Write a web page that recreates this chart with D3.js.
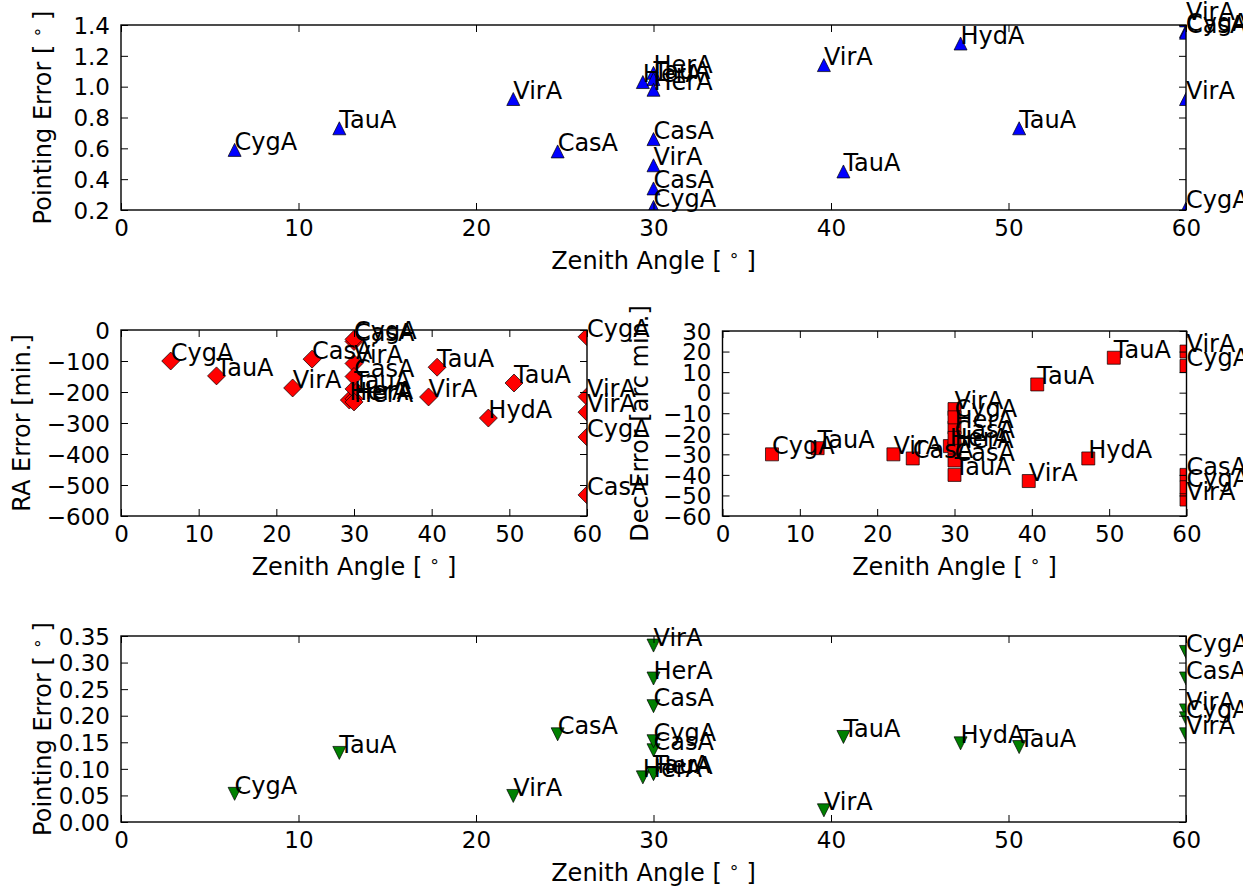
<!DOCTYPE html>
<html>
<head>
<meta charset="utf-8">
<script src="https://cdn.jsdelivr.net/npm/d3@7"></script>
<style>
  body { margin: 0; background: #fff; }
  svg { display: block; font-family: "DejaVu Sans", sans-serif; }
</style>
</head>
<body>
<svg id="chart" width="1243" height="890"></svg>
<script>
// one entry per observation
const sources = ["CygA", "TauA", "VirA", "CasA", "HerA", "HerA", "TauA", "HerA", "CasA", "VirA", "CasA",
  "CygA", "VirA", "TauA", "HydA", "TauA", "VirA", "CygA", "CasA", "VirA", "CygA"];
const zenith = [6.4, 12.3, 22.1, 24.6, 29.4, 30, 30, 30, 30, 30, 30,
  30, 39.6, 40.7, 47.3, 50.6, 60, 60, 60, 60, 60];
const pointingErrA = [0.59, 0.73, 0.92, 0.58, 1.03, 1.09, 1.05, 0.98, 0.66, 0.49, 0.34,
  0.22, 1.14, 0.45, 1.28, 0.73, 1.43, 1.36, 1.35, 0.92, 0.21];
const raError = [-100, -148, -187, -94, -226, -222, -190, -232, -37, -108, -150,
  -30, -216, -120, -284, -171, -215, -22, -532, -265, -345];
const decError = [-30, -27, -30, -32, -26, -17, -40, -27, -22, -8, -33,
  -12, -43, 4, -32, 17, 20, 13, -40, -52, -46];
const pointingErrB = [0.053, 0.13, 0.049, 0.165, 0.084, 0.27, 0.092, 0.09, 0.218, 0.332, 0.135,
  0.152, 0.022, 0.16, 0.148, 0.141, 0.21, 0.32, 0.27, 0.165, 0.195];

const zenithTicks = [0, 10, 20, 30, 40, 50, 60];
const pointingTicksA = [0.2, 0.4, 0.6, 0.8, 1.0, 1.2, 1.4];
const raTicks = [0, -100, -200, -300, -400, -500, -600];
const decTicks = [30, 20, 10, 0, -10, -20, -30, -40, -50, -60];
const pointingTicksB = [0, 0.05, 0.1, 0.15, 0.2, 0.25, 0.3, 0.35];

const svg = d3.select('#chart');
const TICK_FONT = 23;
const LABEL_FONT = 24;
const TICK = 7;

// marker shapes, matplotlib style
const triUp = s => `M0,${-s / 2}L${s / 2},${s / 2}L${-s / 2},${s / 2}Z`;
const triDown = s => `M0,${s / 2}L${s / 2},${-s / 2}L${-s / 2},${-s / 2}Z`;
const diamond = s => `M0,${-s / 2}L${s / 2},0L0,${s / 2}L${-s / 2},0Z`;
const square = s => `M${-s / 2},${-s / 2}h${s}v${s}h${-s}Z`;

// label with a superscript degree ring, e.g. "Zenith Angle [°]"
function degreeLabel(sel, text) {
  sel.append('tspan').text(text + ' [');
  sel.append('tspan').attr('font-size', 17).attr('dx', 7).attr('dy', -8).text('\u2218');
  sel.append('tspan').attr('dx', 7).attr('dy', 8).text(']');
}

function drawPanel(p) {
  const x = d3.scaleLinear().domain([0, 60]).range([p.left, p.right]);
  const y = d3.scaleLinear().domain(p.yDomain).range([p.bottom, p.top]);
  const idx = d3.range(sources.length);
  const g = svg.append('g');

  g.append('clipPath').attr('id', 'clip' + p.id)
    .append('rect')
    .attr('x', p.left).attr('y', p.top)
    .attr('width', p.right - p.left).attr('height', p.bottom - p.top);

  // markers (clipped to the axes)
  g.append('g').attr('clip-path', `url(#clip${p.id})`)
    .selectAll('path')
    .data(idx)
    .join('path')
    .attr('transform', i => `translate(${x(zenith[i])},${y(p.values[i])})`)
    .attr('d', p.marker)
    .attr('fill', p.color)
    .attr('stroke', '#000')
    .attr('stroke-width', 0.7);

  // axes with inward ticks on all four sides
  const styleAxis = a => {
    a.select('.domain').remove();
    a.selectAll('line').attr('stroke-width', 1);
    a.selectAll('text').attr('font-size', TICK_FONT).attr('font-family', '"DejaVu Sans", sans-serif').attr('fill', '#000');
  };
  g.append('g').attr('transform', `translate(0,${p.bottom})`)
    .call(d3.axisBottom(x).tickValues(zenithTicks).tickFormat(d3.format('d'))
      .tickSizeInner(-TICK).tickSizeOuter(0).tickPadding(10))
    .call(styleAxis);
  g.append('g').attr('transform', `translate(0,${p.top})`)
    .call(d3.axisTop(x).tickValues(zenithTicks).tickFormat('').tickSizeInner(-TICK).tickSizeOuter(0))
    .call(styleAxis);
  g.append('g').attr('transform', `translate(${p.left},0)`)
    .call(d3.axisLeft(y).tickValues(p.yTicks).tickFormat(p.yFormat)
      .tickSizeInner(-TICK).tickSizeOuter(0).tickPadding(11))
    .call(styleAxis)
    .call(a => a.selectAll('text').attr('dy', '0.36em'));
  g.append('g').attr('transform', `translate(${p.right},0)`)
    .call(d3.axisRight(y).tickValues(p.yTicks).tickFormat('').tickSizeInner(-TICK).tickSizeOuter(0))
    .call(styleAxis);

  g.append('rect')
    .attr('x', p.left).attr('y', p.top)
    .attr('width', p.right - p.left).attr('height', p.bottom - p.top)
    .attr('fill', 'none').attr('stroke', '#000').attr('stroke-width', 1.4);

  // axis titles
  g.append('text')
    .attr('x', (p.left + p.right) / 2).attr('y', p.bottom + 59)
    .attr('text-anchor', 'middle').attr('font-size', LABEL_FONT)
    .call(degreeLabel, 'Zenith Angle');
  const yl = g.append('text')
    .attr('transform', `translate(${p.ylabelX},${(p.top + p.bottom) / 2}) rotate(-90)`)
    .attr('text-anchor', 'middle').attr('font-size', LABEL_FONT);
  if (p.ylabelDeg) yl.call(degreeLabel, p.ylabel);
  else yl.text(p.ylabel);

  // source annotations, not clipped
  g.append('g')
    .selectAll('text')
    .data(idx)
    .join('text')
    .attr('x', i => x(zenith[i]))
    .attr('y', i => y(p.values[i]))
    .attr('font-size', LABEL_FONT)
    .attr('fill', '#000')
    .text(i => sources[i]);
}

drawPanel({
  id: 1, left: 121, right: 1186, top: 25, bottom: 210,
  yDomain: [0.2, 1.4], yTicks: pointingTicksA, yFormat: d3.format('.1f'),
  values: pointingErrA, marker: triUp(13), color: '#0000ff',
  ylabel: 'Pointing Error', ylabelDeg: true, ylabelX: 51
});
drawPanel({
  id: 2, left: 121, right: 587, top: 330, bottom: 516,
  yDomain: [-600, 0], yTicks: raTicks, yFormat: d3.format('d'),
  values: raError, marker: diamond(18), color: '#ff0000',
  ylabel: 'RA Error [min.]', ylabelDeg: false, ylabelX: 30
});
drawPanel({
  id: 3, left: 722.5, right: 1186.5, top: 331, bottom: 516,
  yDomain: [-60, 30], yTicks: decTicks, yFormat: d3.format('d'),
  values: decError, marker: square(13), color: '#ff0000',
  ylabel: 'Dec Error [arc min.]', ylabelDeg: false, ylabelX: 648
});
drawPanel({
  id: 4, left: 121, right: 1186, top: 636, bottom: 822,
  yDomain: [0, 0.35], yTicks: pointingTicksB, yFormat: d3.format('.2f'),
  values: pointingErrB, marker: triDown(13), color: '#008000',
  ylabel: 'Pointing Error', ylabelDeg: true, ylabelX: 51
});
</script>
</body>
</html>
